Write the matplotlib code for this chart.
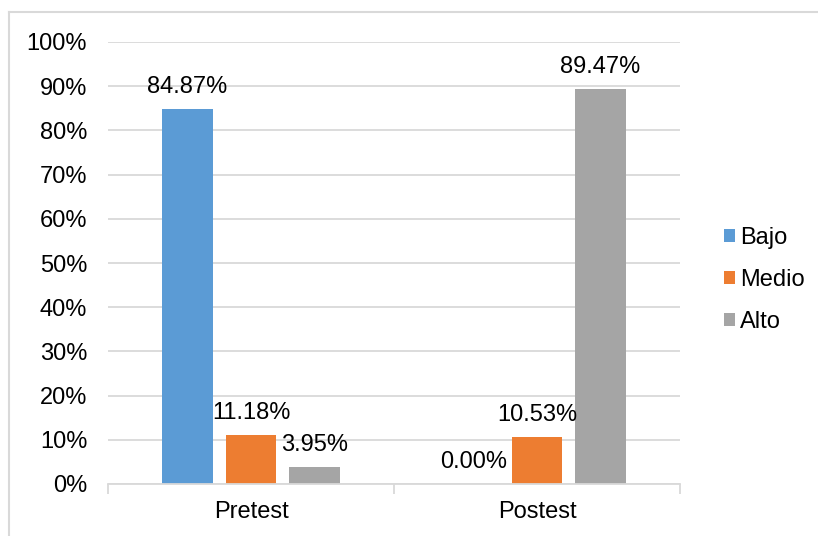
import numpy as np
import matplotlib
matplotlib.use("Agg")
import matplotlib.pyplot as plt
from matplotlib.patches import Patch
from matplotlib.lines import Line2D

# data
categories = ["Pretest", "Postest"]
series_names = ["Bajo", "Medio", "Alto"]
bajo = [84.87, 0.00]
medio = [11.18, 10.53]
alto = [3.95, 89.47]
series_values = [bajo, medio, alto]
colors = ["#5B9BD5", "#ED7D31", "#A5A5A5"]
yticks = [0, 10, 20, 30, 40, 50, 60, 70, 80, 90, 100]

plt.rcParams['font.family'] = ['Liberation Sans', 'DejaVu Sans']
plt.rcParams['font.size'] = 17

W, H = 818, 536
fig = plt.figure(figsize=(W / 100, H / 100), dpi=100)
ax = fig.add_axes([108 / W, 1 - 484 / H, (680 - 108) / W, (484 - 42) / H])

# chart border (light gray frame)
fig.add_artist(Line2D([9 / W, 9 / W], [0, 1 - 12 / H], color="#D9D9D9", lw=1.5,
                      transform=fig.transFigure))
fig.add_artist(Line2D([9 / W, 817 / W], [1 - 12 / H, 1 - 12 / H], color="#D9D9D9", lw=1.5,
                      transform=fig.transFigure))

x = np.arange(len(categories))
bar_w = 0.175
step = 0.222
for i, (name, vals) in enumerate(zip(series_names, series_values)):
    pos = x + (i - 1) * step
    ax.bar(pos, vals, width=bar_w, color=colors[i], label=name, zorder=3)
    for px, v in zip(pos, vals):
        ax.annotate("{:.2f}%".format(v), (px, v), xytext=(0, 11), textcoords="offset pixels",
                    ha="center", va="bottom", color="black", zorder=4)

ax.set_ylim(0, 100)
ax.set_xlim(-0.5, 1.5)
ax.set_yticks(yticks)
ax.set_yticklabels(["{}%".format(t) for t in yticks])
ax.yaxis.grid(True, color="#D9D9D9", lw=1.3, zorder=0)
ax.tick_params(axis="y", length=0, pad=15)

# category labels with boundary ticks
ax.set_xticks(x)
ax.set_xticklabels(categories)
ax.set_xticks([-0.5, 0.5, 1.5], minor=True)
ax.tick_params(axis="x", which="major", length=0, pad=12)
ax.tick_params(axis="x", which="minor", length=7, color="#D9D9D9", width=1.3)

for s in ["top", "right", "left"]:
    ax.spines[s].set_visible(False)
ax.spines["bottom"].set_color("#D9D9D9")
ax.spines["bottom"].set_linewidth(1.3)
ax.spines["bottom"].set_zorder(5)

handles = [Patch(facecolor=c, label=n) for c, n in zip(colors, series_names)]
fig.legend(handles=handles, loc="center left", bbox_to_anchor=(707 / W, 1 - 280 / H),
           frameon=False, handlelength=0.5, handleheight=0.5, handletextpad=0.2,
           labelspacing=0.85, borderpad=0.2)

fig.savefig("out.png", dpi=100)
